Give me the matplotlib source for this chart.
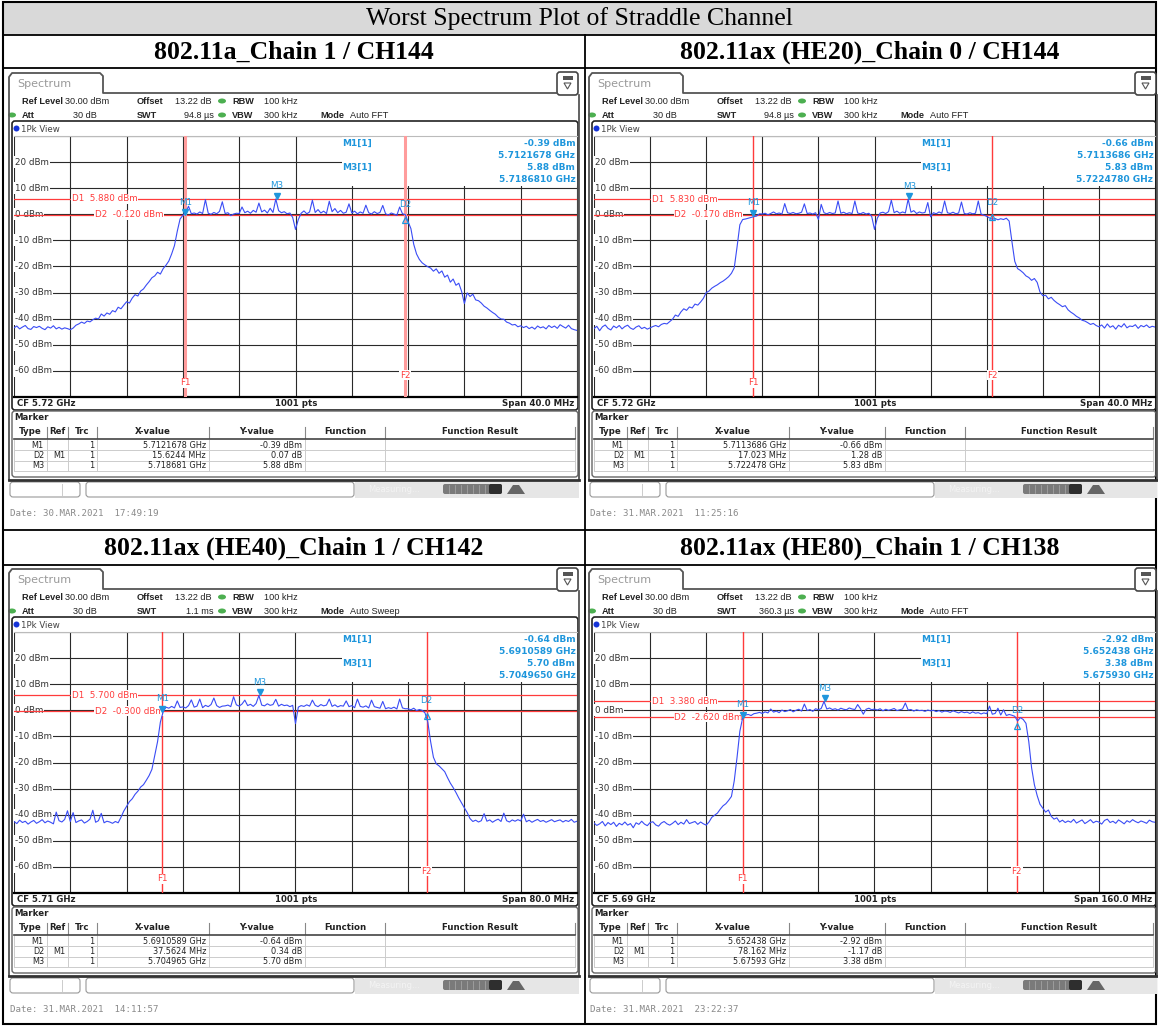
import numpy as np
import matplotlib.pyplot as plt
from matplotlib.patches import Rectangle, FancyBboxPatch, Ellipse, Circle, Polygon
import matplotlib.transforms as mtransforms

plt.rcParams['font.family'] = 'DejaVu Sans'

title = "Worst Spectrum Plot of Straddle Channel"
headers = ["802.11a_Chain 1 / CH144", "802.11ax (HE20)_Chain 0 / CH144",
           "802.11ax (HE40)_Chain 1 / CH142", "802.11ax (HE80)_Chain 1 / CH138"]

cf_ghz = [5.72, 5.72, 5.71, 5.69]
span_mhz = [40.0, 40.0, 80.0, 160.0]
swt = ["94.8 \u00b5s", "94.8 \u00b5s", "1.1 ms", "360.3 \u00b5s"]
mode = ["Auto FFT", "Auto FFT", "Auto Sweep", "Auto FFT"]
m1_freq = [5.7121678, 5.7113686, 5.6910589, 5.652438]
m1_level = [-0.39, -0.66, -0.64, -2.92]
d2_delta_mhz = [15.6244, 17.023, 37.5624, 78.162]
d2_delta_db = [0.07, 1.28, 0.34, -1.17]
m3_freq = [5.718681, 5.722478, 5.704965, 5.67593]
m3_level = [5.88, 5.83, 5.70, 3.38]
freq_decimals = [7, 7, 7, 6]
d1_line = [5.880, 5.830, 5.700, 3.380]
d2_line = [-0.120, -0.170, -0.300, -2.620]
dates = ["30.MAR.2021  17:49:19", "31.MAR.2021  11:25:16",
         "31.MAR.2021  14:11:57", "31.MAR.2021  23:22:37"]

# trace levels (dBm), every 1/20 division across the span
trace_a = [
    -43.5, -42.8, -43.9, -43.2, -42.6, -43.8, -44.1, -43.0, -43.4, -42.9, -43.7, -44.2, -43.1, -43.6, -42.7, -43.9, -43.3, -44.0, -43.5, -43.8,
    -44.2, -43.6, -42.5, -42.0, -41.3, -41.8, -40.9, -41.2, -40.4, -39.8, -40.1, -38.2, -39.0, -37.8, -38.3, -36.9, -37.4, -35.6, -36.2, -34.8,
    -33.5, -34.0, -32.1, -30.8, -31.3, -29.4, -28.6, -27.1, -25.8, -24.3, -23.6, -22.2, -22.9, -20.8, -19.5, -17.9, -15.2, -12.0, -6.5, -1.8,
    -0.4, 0.8, 3.1, 0.2, 0.5, 0.1, 0.9, 0.3, 5.6, 0.4, 0.0, 0.7, 0.2, 1.1, 4.8, 0.3, 0.6, -0.5, 0.1, 0.4,
    0.3, 2.8, 0.6, 1.2, 0.4, 1.5, 0.8, 4.3, 0.9, 1.6, 0.5, 2.3, 0.7, 5.88, 1.4, 0.6, 1.0, 0.2, 0.5, -1.2,
    -5.8, -2.0, 0.4, 1.3, 0.2, 0.9, 5.4, 0.7, 1.8, 0.5, 1.2, 0.3, 5.0, 1.0, 2.2, 0.6, 1.5, 0.4, 0.8, 4.0,
    0.5, 1.2, 0.2, 0.9, 0.4, 3.5, 0.6, 0.1, 1.0, 0.3, 0.7, 3.4, 0.2, -0.3, 0.5, 0.1, -0.4, 2.8, 0.2, -0.1,
    -2.8, -5.5, -11.5, -15.2, -17.3, -18.6, -19.4, -20.1, -20.6, -21.8, -20.9, -22.6, -21.7, -24.1, -23.3, -26.0, -24.8, -27.2, -26.4, -29.5,
    -34.2, -30.1, -31.5, -30.6, -32.8, -33.1, -34.0, -35.2, -35.9, -36.8, -37.6, -38.3, -39.4, -40.1, -40.2, -41.3, -41.7, -42.4, -42.2, -43.1,
    -42.7, -43.4, -42.9, -43.8, -43.2, -44.0, -42.8, -43.5, -43.1, -43.9, -42.6, -43.4, -42.8, -43.7, -42.3, -43.0, -43.6, -42.5, -43.8, -44.2,
    -44.5]

trace_b = [
    -43.8, -42.9, -44.6, -43.1, -42.4, -43.7, -44.3, -42.8, -43.5, -42.6, -43.9, -43.0, -42.5, -43.6, -44.1, -43.2, -42.7, -43.8, -43.3, -44.0,
    -43.5, -43.0, -42.6, -43.1, -42.2, -41.8, -42.0, -41.1, -40.2, -38.6, -39.1, -37.4, -36.2, -36.8, -35.5, -35.9, -34.4, -34.8, -33.6, -32.2,
    -30.0, -29.4, -28.3, -27.6, -27.0, -26.2, -25.6, -24.8, -23.9, -22.6, -20.5, -12.5, -4.0, -2.0, -1.8, -1.5, -1.2, -0.9, -0.66, 0.2,
    0.1, 0.4, -0.2, 0.3, 0.9, 0.2, 0.5, 0.1, 4.1, 0.6, 0.3, 0.7, 0.2, 0.4, 0.8, 4.0, 0.3, 0.5, 0.1, 0.6,
    -2.0, 3.8, 0.6, 0.2, 0.7, 0.3, 0.5, 5.1, 0.4, 0.8, 0.2, 0.6, 0.3, 5.1, 0.5, 0.2, 0.7, 0.1, 0.4, -0.8,
    -5.8, -1.5, 0.5, 0.8, 0.3, 1.0, 5.4, 0.6, 1.2, 0.4, 0.9, 0.5, 5.83, 0.8, 1.4, 0.3, 0.9, 0.5, 0.7, 4.5,
    -1.0, 0.6, 0.2, 0.9, 0.4, 5.1, 0.6, 0.3, 0.8, 0.2, 0.5, 4.7, 0.3, 0.1, 0.6, 0.2, 0.4, 5.1, 0.1, -0.3,
    -0.8, -1.4, -1.9, -1.6, -2.1, -1.7, -2.0, -1.5, -2.6, -10.5, -18.0, -20.8, -21.5, -22.4, -23.6, -24.2, -25.3, -24.6, -26.1, -29.8,
    -31.2, -31.0, -32.4, -31.8, -33.0, -33.9, -34.6, -35.4, -35.0, -36.6, -37.5, -38.2, -39.1, -39.7, -40.6, -40.9, -41.5, -42.2, -41.8, -42.6,
    -43.1, -42.4, -43.6, -42.0, -43.3, -42.7, -44.0, -42.5, -43.2, -41.9, -43.5, -42.8, -43.0, -42.3, -43.7, -42.6, -43.1, -42.4, -43.4, -42.9,
    -43.2]

trace_c = [
    -42.6, -43.4, -42.1, -43.0, -42.5, -43.6, -42.8, -42.2, -43.3, -42.7, -41.9, -43.1, -42.4, -42.9, -43.5, -39.0, -42.3, -42.8, -41.8, -38.5,
    -42.6, -39.2, -43.0, -42.4, -42.0, -43.2, -42.6, -41.7, -38.3, -42.9, -42.3, -39.5, -43.1, -42.5, -42.8, -43.3, -42.6, -43.1, -41.0, -38.6,
    -36.8, -35.0, -33.9, -32.2, -31.0, -29.4, -28.5, -26.8, -25.0, -22.6, -17.4, -12.0, -4.5, -0.5, 1.2, 0.8, 1.5, 0.9, 3.6, 1.1,
    1.3, 0.9, 1.8, 4.0, 1.2, 1.6, 4.3, 1.0, 1.9, 1.4, 2.2, 4.7, 1.8, 1.1, 1.6, 1.7, 2.0, 1.4, 5.2, 2.1,
    1.6, 2.4, 3.9, 1.8, 2.3, 1.5, 2.6, 5.70, 2.0, 1.7, 2.5, 1.9, 2.2, 4.2, 1.6, 2.3, 1.8, 2.0, 1.4, 1.9,
    -5.1, 1.2, 1.8, 1.5, 2.1, 1.6, 3.9, 1.9, 1.4, 2.2, 1.7, 2.0, 4.3, 1.5, 2.1, 1.3, 1.8, 1.6, 3.6, 1.4,
    1.8, 1.0, 4.3, 1.5, 1.2, 1.7, 0.9, 3.9, 1.4, 1.1, 0.8, 3.4, 0.6, 1.0, 0.7, 1.2, 0.5, 4.3, 0.9, 0.6,
    0.6, 0.2, 0.8, -0.1, 0.3, 0.0, -1.0, -4.5, -12.0, -18.0, -20.5, -21.3, -22.4, -23.5, -25.8, -27.9, -29.6, -31.5, -33.6, -35.5,
    -37.4, -39.2, -41.5, -42.6, -42.1, -42.8, -42.3, -39.6, -42.5, -42.0, -42.9, -42.2, -41.7, -42.6, -39.4, -42.3, -42.8, -42.0, -42.5, -41.9,
    -42.4, -39.8, -42.7, -42.1, -42.9, -42.3, -41.8, -42.6, -42.2, -42.9, -42.4, -41.9, -42.7, -42.3, -42.0, -42.8, -42.2, -42.6, -41.8, -42.9,
    -42.5]

trace_d = [
    -43.2, -44.1, -43.5, -42.6, -44.3, -43.0, -43.8, -42.9, -44.5, -43.3, -43.9, -42.8, -44.0, -43.4, -45.0, -43.1, -43.7, -42.5, -43.6, -44.2,
    -43.0, -42.7, -43.9, -44.4, -43.2, -42.6, -43.5, -44.0, -43.3, -42.4, -43.8, -42.9, -43.6, -41.9, -43.4, -43.0, -42.6, -43.7, -42.8, -43.5,
    -44.0, -42.8, -41.0, -40.2, -39.4, -37.9, -36.6, -35.8, -34.5, -33.0, -27.0, -18.0, -8.0, -2.92, -1.8, -1.6, -2.0, -1.3, -1.1, -0.8,
    -1.2, -0.6, -1.0, 0.5, -0.7, -0.3, -0.9, 0.1, -0.5, -0.2, 0.3, -0.6, 0.0, 0.4, -0.3, 2.4, -0.1, 0.3, -0.4, 0.6,
    0.2, 0.7, 3.38, 0.5, 0.9, 0.3, 0.6, 0.1, 0.8, 0.4, 0.2, 0.9, 0.5, 0.3, 2.2, 0.6, -1.5, 0.4, 0.8, 0.2,
    0.5, 0.1, 0.6, -0.2, 0.4, 0.0, 0.3, 0.7, -0.1, 0.2, 0.5, 2.8, 0.1, 0.3, -0.3, 0.2, -0.1, 0.0, -0.4, 0.1,
    -0.2, 0.0, -0.5, -0.1, -0.7, -0.3, -0.4, -0.8, -0.2, -0.6, -1.0, -0.5, -0.9, -0.7, -1.2, -0.6, -1.1, -0.9, -1.4, -1.0,
    -1.3, 1.6, -1.5, -1.2, 0.8, -1.8, 0.2, -2.0, -1.6, -1.9, -2.3, -4.09, -2.8, -3.5, -5.0, -12.0, -22.0, -28.5, -32.7, -36.0,
    -37.5, -39.0, -38.2, -40.6, -41.7, -41.2, -42.8, -42.1, -43.0, -42.4, -42.9, -41.8, -43.2, -42.6, -42.0, -43.4, -42.7, -41.9, -43.1, -42.5,
    -42.8, -43.6, -42.2, -41.7, -43.0, -42.5, -43.3, -42.0, -42.7, -43.5, -42.3, -42.9, -41.9, -42.6, -43.1, -42.4, -42.8, -43.3, -42.1, -42.7,
    -42.9]

traces = [trace_a, trace_b, trace_c, trace_d]

W, H = 1158, 1026
UI = 6.2
INFO = dict(fontsize=6.6, family='Liberation Sans')
BLUE_M = '#1e96dc'
RED = '#ff3b3b'
TRACE = '#3a4cf5'

fig = plt.figure(figsize=(W / 100, H / 100), dpi=100)
bg = fig.add_axes([0, 0, 1, 1])
bg.set_xlim(0, W)
bg.set_ylim(H, 0)
bg.axis('off')


def px_axes(x0, y0, x1, y1):
    return fig.add_axes([x0 / W, 1 - y1 / H, (x1 - x0) / W, (y1 - y0) / H])


def txt(x, y, s, **kw):
    kw.setdefault('va', 'center')
    kw.setdefault('fontsize', UI)
    kw.setdefault('color', '#222222')
    bg.text(x, y, s, **kw)


def rbox(x, y, w, h, r=3, **kw):
    bg.add_patch(FancyBboxPatch((x, y), w, h, boxstyle=f'round,pad=0,rounding_size={r}', **kw))


def panel(i, x0, y0, R):
    X = lambda x: x0 + x
    Y = lambda y: y0 + y
    cf, span = cf_ghz[i], span_mhz[i]

    # outer window frame with tab
    fx = [9, 9, 12, 100, 103, 103, R - 21]
    fy = [480, 77, 73, 73, 76, 93, 93]
    bg.plot([X(v) for v in fx], [Y(v) for v in fy], color='#555555', lw=1.3)
    bg.plot([X(R + 1), X(R + 1)], [Y(95), Y(480)], color='#555555', lw=1.3)
    bg.plot([X(9), X(R + 1)], [Y(480), Y(480)], color='#333333', lw=2)
    txt(X(17), Y(84), "Spectrum", fontsize=8, color='#999999')

    # menu icon
    rbox(X(R - 21), Y(72), 21, 23, r=3, fc='white', ec='#444444', lw=1.2)
    bg.add_patch(Rectangle((X(R - 15), Y(76)), 10, 4, fc='#555555', ec='none'))
    bg.add_patch(Polygon([(X(R - 14), Y(83)), (X(R - 7), Y(83)), (X(R - 10.5), Y(89))],
                         fc='none', ec='#555555', lw=0.8))

    # setting rows
    txt(X(22), Y(101), "Ref Level", weight='bold', **INFO)
    txt(X(65), Y(101), "30.00 dBm", **INFO)
    txt(X(137), Y(101), "Offset", weight='bold', **INFO)
    txt(X(175), Y(101), "13.22 dB", **INFO)
    txt(X(232), Y(101), "RBW", weight='bold', **INFO)
    txt(X(264), Y(101), "100 kHz", **INFO)
    txt(X(22), Y(115), "Att", weight='bold', **INFO)
    txt(X(97), Y(115), "30 dB", ha='right', **INFO)
    txt(X(137), Y(115), "SWT", weight='bold', **INFO)
    txt(X(214), Y(115), swt[i], ha='right', **INFO)
    txt(X(232), Y(115), "VBW", weight='bold', **INFO)
    txt(X(264), Y(115), "300 kHz", **INFO)
    txt(X(320), Y(115), "Mode", weight='bold', **INFO)
    txt(X(350), Y(115), mode[i], **INFO)
    for ex, ey in [(222, 101), (222, 115), (12, 115)]:
        bg.add_patch(Ellipse((X(ex), Y(ey)), 8, 5, fc='#4caf50', ec='none'))

    # graph frame
    rbox(X(12), Y(121), R - 12, 289, r=3, fc='none', ec='#222222', lw=1.2)
    bg.add_patch(Circle((X(16.5), Y(128.5)), 3, fc='#1533d8', ec='none'))
    txt(X(21), Y(129), "1Pk View", color='#444444')
    txt(X(17), Y(404), f"CF {cf:.2f} GHz", weight='bold')
    txt(X((14 + R) / 2), Y(404), "1001 pts", weight='bold', ha='center')
    txt(X(R - 4), Y(404), f"Span {span:.1f} MHz", weight='bold', ha='right')

    # marker table
    rbox(X(12), Y(411), R - 12, 66, r=3, fc='none', ec='#666666', lw=1)
    txt(X(14), Y(418), "Marker", weight='bold')
    cols = [14, 47, 68, 97, 209, 305, 385, R - 3]
    heads = ["Type", "Ref", "Trc", "X-value", "Y-value", "Function", "Function Result"]
    for c0, c1, hname in zip(cols[:-1], cols[1:], heads):
        txt(X((c0 + c1) / 2), Y(432), hname, weight='bold', ha='center')
        bg.plot([X(c1), X(c1)], [Y(427), Y(438)], color='#888888', lw=0.8)
        bg.plot([X(c1), X(c1)], [Y(440), Y(471)], color='#cccccc', lw=0.7)
    bg.plot([X(14), X(R - 3)], [Y(439), Y(439)], color='#444444', lw=1.2)
    for ly in [450, 461, 471]:
        bg.plot([X(14), X(R - 3)], [Y(ly), Y(ly)], color='#cccccc', lw=0.7)
    bg.plot([X(14), X(14)], [Y(440), Y(471)], color='#cccccc', lw=0.7)
    f2 = m1_freq[i] + d2_delta_mhz[i] / 1000
    rows = [("M1", "", "1", f"{m1_freq[i]} GHz", f"{m1_level[i]:.2f} dBm"),
            ("D2", "M1", "1", f"{d2_delta_mhz[i]} MHz", f"{d2_delta_db[i]:.2f} dB"),
            ("M3", "", "1", f"{m3_freq[i]} GHz", f"{m3_level[i]:.2f} dBm")]
    for ry, row in zip([445, 455.5, 466], rows):
        for c1, val in zip(cols[1:6], row):
            txt(X(c1 - 3), Y(ry), val, ha='right', fontsize=5.9)

    # status bar
    rbox(X(10), Y(482), 70, 15, r=3, fc='white', ec='#999999', lw=0.8)
    bg.plot([X(62), X(62)], [Y(484), Y(495)], color='#cccccc', lw=0.7)
    rbox(X(86), Y(482), 268, 15, r=3, fc='white', ec='#999999', lw=0.8)
    bg.add_patch(Rectangle((X(355), Y(481)), R + 1 - 355, 17, fc='#e6e6e6', ec='none'))
    txt(X(368), Y(490), "Measuring...", color='#f4f4f4', fontsize=6)
    rbox(X(443), Y(484), 59, 10, r=2, fc='#7a7a7a', ec='none')
    rbox(X(489), Y(484), 13, 10, r=2, fc='#2e2e2e', ec='none')
    for sx in range(449, 489, 6):
        bg.plot([X(sx), X(sx)], [Y(485), Y(493)], color='#aaaaaa', lw=0.5)
    bg.add_patch(Polygon([(X(507), Y(494)), (X(513), Y(485)), (X(519), Y(485)), (X(525), Y(494))],
                         fc='#666666', ec='none'))
    txt(X(10), Y(513), "Date: " + dates[i], family='DejaVu Sans Mono', fontsize=6.6, color='#8a8a8a')

    # spectrum display
    ax = px_axes(X(14), Y(136), X(R - 1), Y(397))
    start = cf - span / 2000
    stop = cf + span / 2000
    trace = traces[i]
    freq = np.linspace(start, stop, len(trace))
    ax.set_xlim(start, stop)
    ax.set_ylim(-70, 30)
    ax.set_xticks(np.linspace(start, stop, 11))
    ax.set_yticks(np.arange(-70, 31, 10))
    ax.grid(True, color='#2a2a2a', lw=0.8)
    ax.set_axisbelow(True)
    ax.tick_params(length=0, labelbottom=False, labelleft=False)
    for s in ax.spines.values():
        s.set_visible(False)
    ax.spines['bottom'].set_visible(True)
    ax.spines['bottom'].set_linewidth(1.6)
    ax.spines['top'].set_visible(True)
    ax.spines['top'].set_color('#bbbbbb')
    ax.spines['top'].set_linewidth(0.8)

    trans = mtransforms.blended_transform_factory(ax.transAxes, ax.transData)
    ax.add_patch(Rectangle((0.582, 10.8), 0.42, 20, transform=trans, fc='white', ec='none', zorder=1))
    for lv in range(20, -61, -10):
        ax.text(0.001, lv, f"{lv} dBm", transform=trans, fontsize=6.3, color='#333333', va='center',
                bbox=dict(fc='white', ec='none', pad=1.0), zorder=2)

    f_lw = 2.2 if i == 0 else 1.0
    f_col = '#ff9c9c' if i == 0 else RED
    ax.axhline(d1_line[i], color=RED, lw=0.9, zorder=3)
    ax.axhline(d2_line[i], color=RED, lw=0.9, zorder=3)
    ax.axvline(m1_freq[i], color=f_col, lw=f_lw, zorder=3)
    ax.axvline(f2, color=f_col, lw=f_lw, zorder=3)
    ax.text(0.103, d1_line[i], f"D1  {d1_line[i]:.3f} dBm", transform=trans, color=RED, fontsize=6.3,
            va='center', bbox=dict(fc='white', ec='none', pad=0.4), zorder=3.5)
    ax.text(0.143, d2_line[i], f"D2  {d2_line[i]:.3f} dBm", transform=trans, color=RED, fontsize=6.3,
            va='center', bbox=dict(fc='white', ec='none', pad=0.4), zorder=3.5)
    ax.text(m1_freq[i], -64.6, "F1", ha='center', va='center', color=RED, fontsize=6.3,
            bbox=dict(fc='white', ec='none', pad=0.3), zorder=3.5)
    ax.text(f2, -61.7, "F2", ha='center', va='center', color=RED, fontsize=6.3,
            bbox=dict(fc='white', ec='none', pad=0.3), zorder=3.5)

    ax.plot(freq, trace, color=TRACE, lw=0.8, zorder=4)

    d2_level = m1_level[i] + d2_delta_db[i]
    ax.plot(m1_freq[i], m1_level[i] + 1.3, marker='v', ms=5, color=BLUE_M, zorder=5)
    ax.plot(m3_freq[i], m3_level[i] + 1.3, marker='v', ms=5, color=BLUE_M, zorder=5)
    ax.plot(f2, d2_level - 1.8, marker='^', ms=4.5, mfc='none', mec=BLUE_M, mew=0.9, zorder=5)
    ax.text(m1_freq[i], m1_level[i] + 5.0, "M1", ha='center', va='center', color=BLUE_M, fontsize=6.3, zorder=5)
    ax.text(m3_freq[i], m3_level[i] + 5.0, "M3", ha='center', va='center', color=BLUE_M, fontsize=6.3, zorder=5)
    ax.text(f2, d2_level + 4.0, "D2", ha='center', va='center', color=BLUE_M, fontsize=6.3, zorder=5)

    nd = freq_decimals[i]
    info = [(27.0, "M1[1]", f"{m1_level[i]:.2f} dBm"),
            (22.4, "", f"{m1_freq[i]:.{nd}f} GHz"),
            (17.8, "M3[1]", f"{m3_level[i]:.2f} dBm"),
            (13.2, "", f"{m3_freq[i]:.{nd}f} GHz")]
    for iy, left, right in info:
        if left:
            ax.text(0.583, iy, left, transform=trans, color=BLUE_M, fontsize=6.5, weight='bold',
                    va='center', zorder=5)
        ax.text(0.997, iy, right, transform=trans, color=BLUE_M, fontsize=6.5, weight='bold',
                va='center', ha='right', zorder=5)


# document table
bg.add_patch(Rectangle((3, 2), 1153, 33, fc='#d9d9d9', ec='none'))
bg.add_patch(Rectangle((3, 2), 1153, 1022, fc='none', ec='black', lw=1.5))
for hy in [35, 68, 530, 565]:
    bg.plot([3, 1156], [hy, hy], color='black', lw=1.3)
bg.plot([585, 585], [35, 1024], color='black', lw=1.3)
bg.text(579, 18.5, title, ha='center', va='center', fontsize=18.5, family='Liberation Serif')
for k, (hx, hy) in enumerate([(294, 52), (870, 52), (294, 548), (870, 548)]):
    bg.text(hx, hy, headers[k], ha='center', va='center', fontsize=18.5, weight='bold',
            family='Liberation Serif')

panel(0, 0, 0, 578)
panel(1, 580, 0, 576)
panel(2, 0, 496, 578)
panel(3, 580, 496, 576)

fig.savefig('out.png', dpi=100)
